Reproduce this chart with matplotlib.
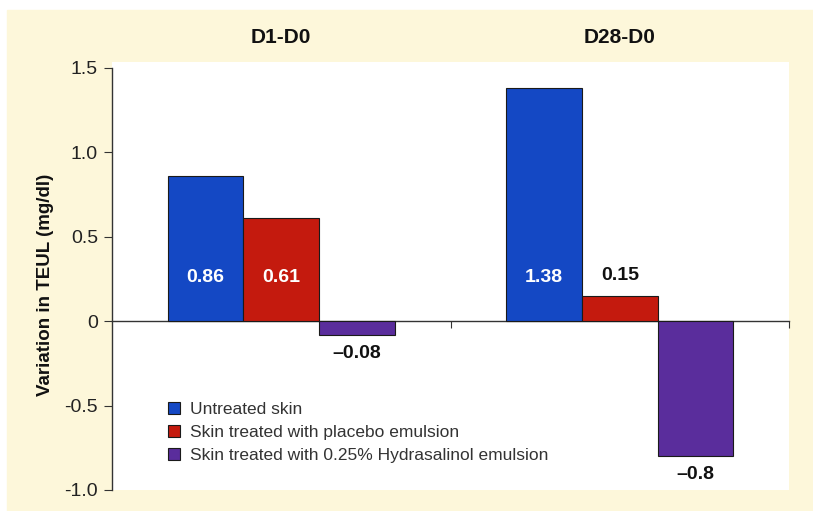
import matplotlib
matplotlib.use("Agg")
import matplotlib.pyplot as plt
from matplotlib.patches import Rectangle
import numpy as np

# change in TEUL relative to D0, per treatment and period
periods = ["D1-D0", "D28-D0"]
treatments = ["Untreated skin",
              "Skin treated with placebo emulsion",
              "Skin treated with 0.25% Hydrasalinol emulsion"]
untreated = [0.86, 1.38]
placebo = [0.61, 0.15]
hydrasalinol = [-0.08, -0.8]
yticks = [-1.0, -0.5, 0, 0.5, 1.0, 1.5]
ytick_labels = ["-1.0", "-0.5", "0", "0.5", "1.0", "1.5"]

colors = ["#1448c4", "#c41a0e", "#5a2d9c"]
cream = "#fdf7da"

plt.rcParams['font.family'] = ['Liberation Sans', 'DejaVu Sans']

fig = plt.figure(figsize=(8.13, 5.11), dpi=100, facecolor="white")
fig.patches.append(Rectangle((7 / 813, 0), 1, 1 - 10 / 511,
                             transform=fig.transFigure, color=cream,
                             zorder=-10))

W, H = 813, 511
left, right = 112, 789
top, bottom = 62, 490
ax = fig.add_axes([left / W, 1 - bottom / H, (right - left) / W,
                   (bottom - top) / H])
ax.set_facecolor("white")

x = np.arange(len(periods))
bw = 0.224
series = [untreated, placebo, hydrasalinol]
for i, (vals, c) in enumerate(zip(series, colors)):
    ax.bar(x + (i - 1) * bw, vals, bw, color=c, edgecolor="#1a1a1a",
           linewidth=0.8, label=treatments[i], zorder=3)

ax.set_xlim(-0.5, 1.5)
ax.set_ylim(-1.0, 1.535)

# axes: left spine only over the tick range, zero line with downward ticks
for s in ["top", "right"]:
    ax.spines[s].set_visible(False)
ax.spines["left"].set_bounds(-1.0, 1.5)
ax.spines["bottom"].set_position(("data", 0))
for s in ["left", "bottom"]:
    ax.spines[s].set_color("#333333")
    ax.spines[s].set_linewidth(1.0)
ax.set_xticks([0.5, 1.5])
ax.set_xticklabels([])
ax.tick_params(axis="x", direction="out", length=5, color="#333333")
ax.set_yticks(yticks)
ax.set_yticklabels(ytick_labels)
ax.tick_params(axis="y", direction="out", length=6, color="#333333",
               labelsize=14, labelcolor="#222222", pad=4)

ax.set_ylabel("Variation in TEUL (mg/dl)", fontsize=13.5, fontweight="bold",
              color="#111111")
ax.yaxis.set_label_coords(-0.086, 0.479)

# period titles above each group
for xi, p in zip(x, periods):
    ax.text(xi, 1.68, p, ha="center", va="center", fontsize=15,
            fontweight="bold", color="#111111", clip_on=False)


def fmt(v):
    s = f"{v:.2f}".rstrip("0") if abs(v * 10 - round(v * 10)) < 1e-9 else f"{v:.2f}"
    return s.replace("-", "\u2013")


# value labels
for xi, v in zip(x, untreated):
    ax.text(xi - bw, 0.26, fmt(v), ha="center", va="center", fontsize=14,
            fontweight="bold", color="white", zorder=5)
ax.text(x[0], 0.26, fmt(placebo[0]), ha="center", va="center", fontsize=14,
        fontweight="bold", color="white", zorder=5)
ax.text(x[1], placebo[1] + 0.12, fmt(placebo[1]), ha="center", va="center",
        fontsize=14, fontweight="bold", color="#111111", zorder=5)
for xi, v in zip(x, hydrasalinol):
    ax.text(xi + bw, v - 0.11, fmt(v), ha="center", va="center",
            fontsize=14, fontweight="bold", color="#111111", zorder=5)

leg = ax.legend(loc="upper left", bbox_to_anchor=(152 / W, 1 - 386 / H),
                bbox_transform=fig.transFigure, frameon=False, fontsize=12.5,
                handlelength=0.7, handleheight=0.7, handletextpad=0.6,
                labelspacing=0.45)
for t in leg.get_texts():
    t.set_color("#333333")

fig.savefig("out.png", dpi=100, facecolor=fig.get_facecolor())
